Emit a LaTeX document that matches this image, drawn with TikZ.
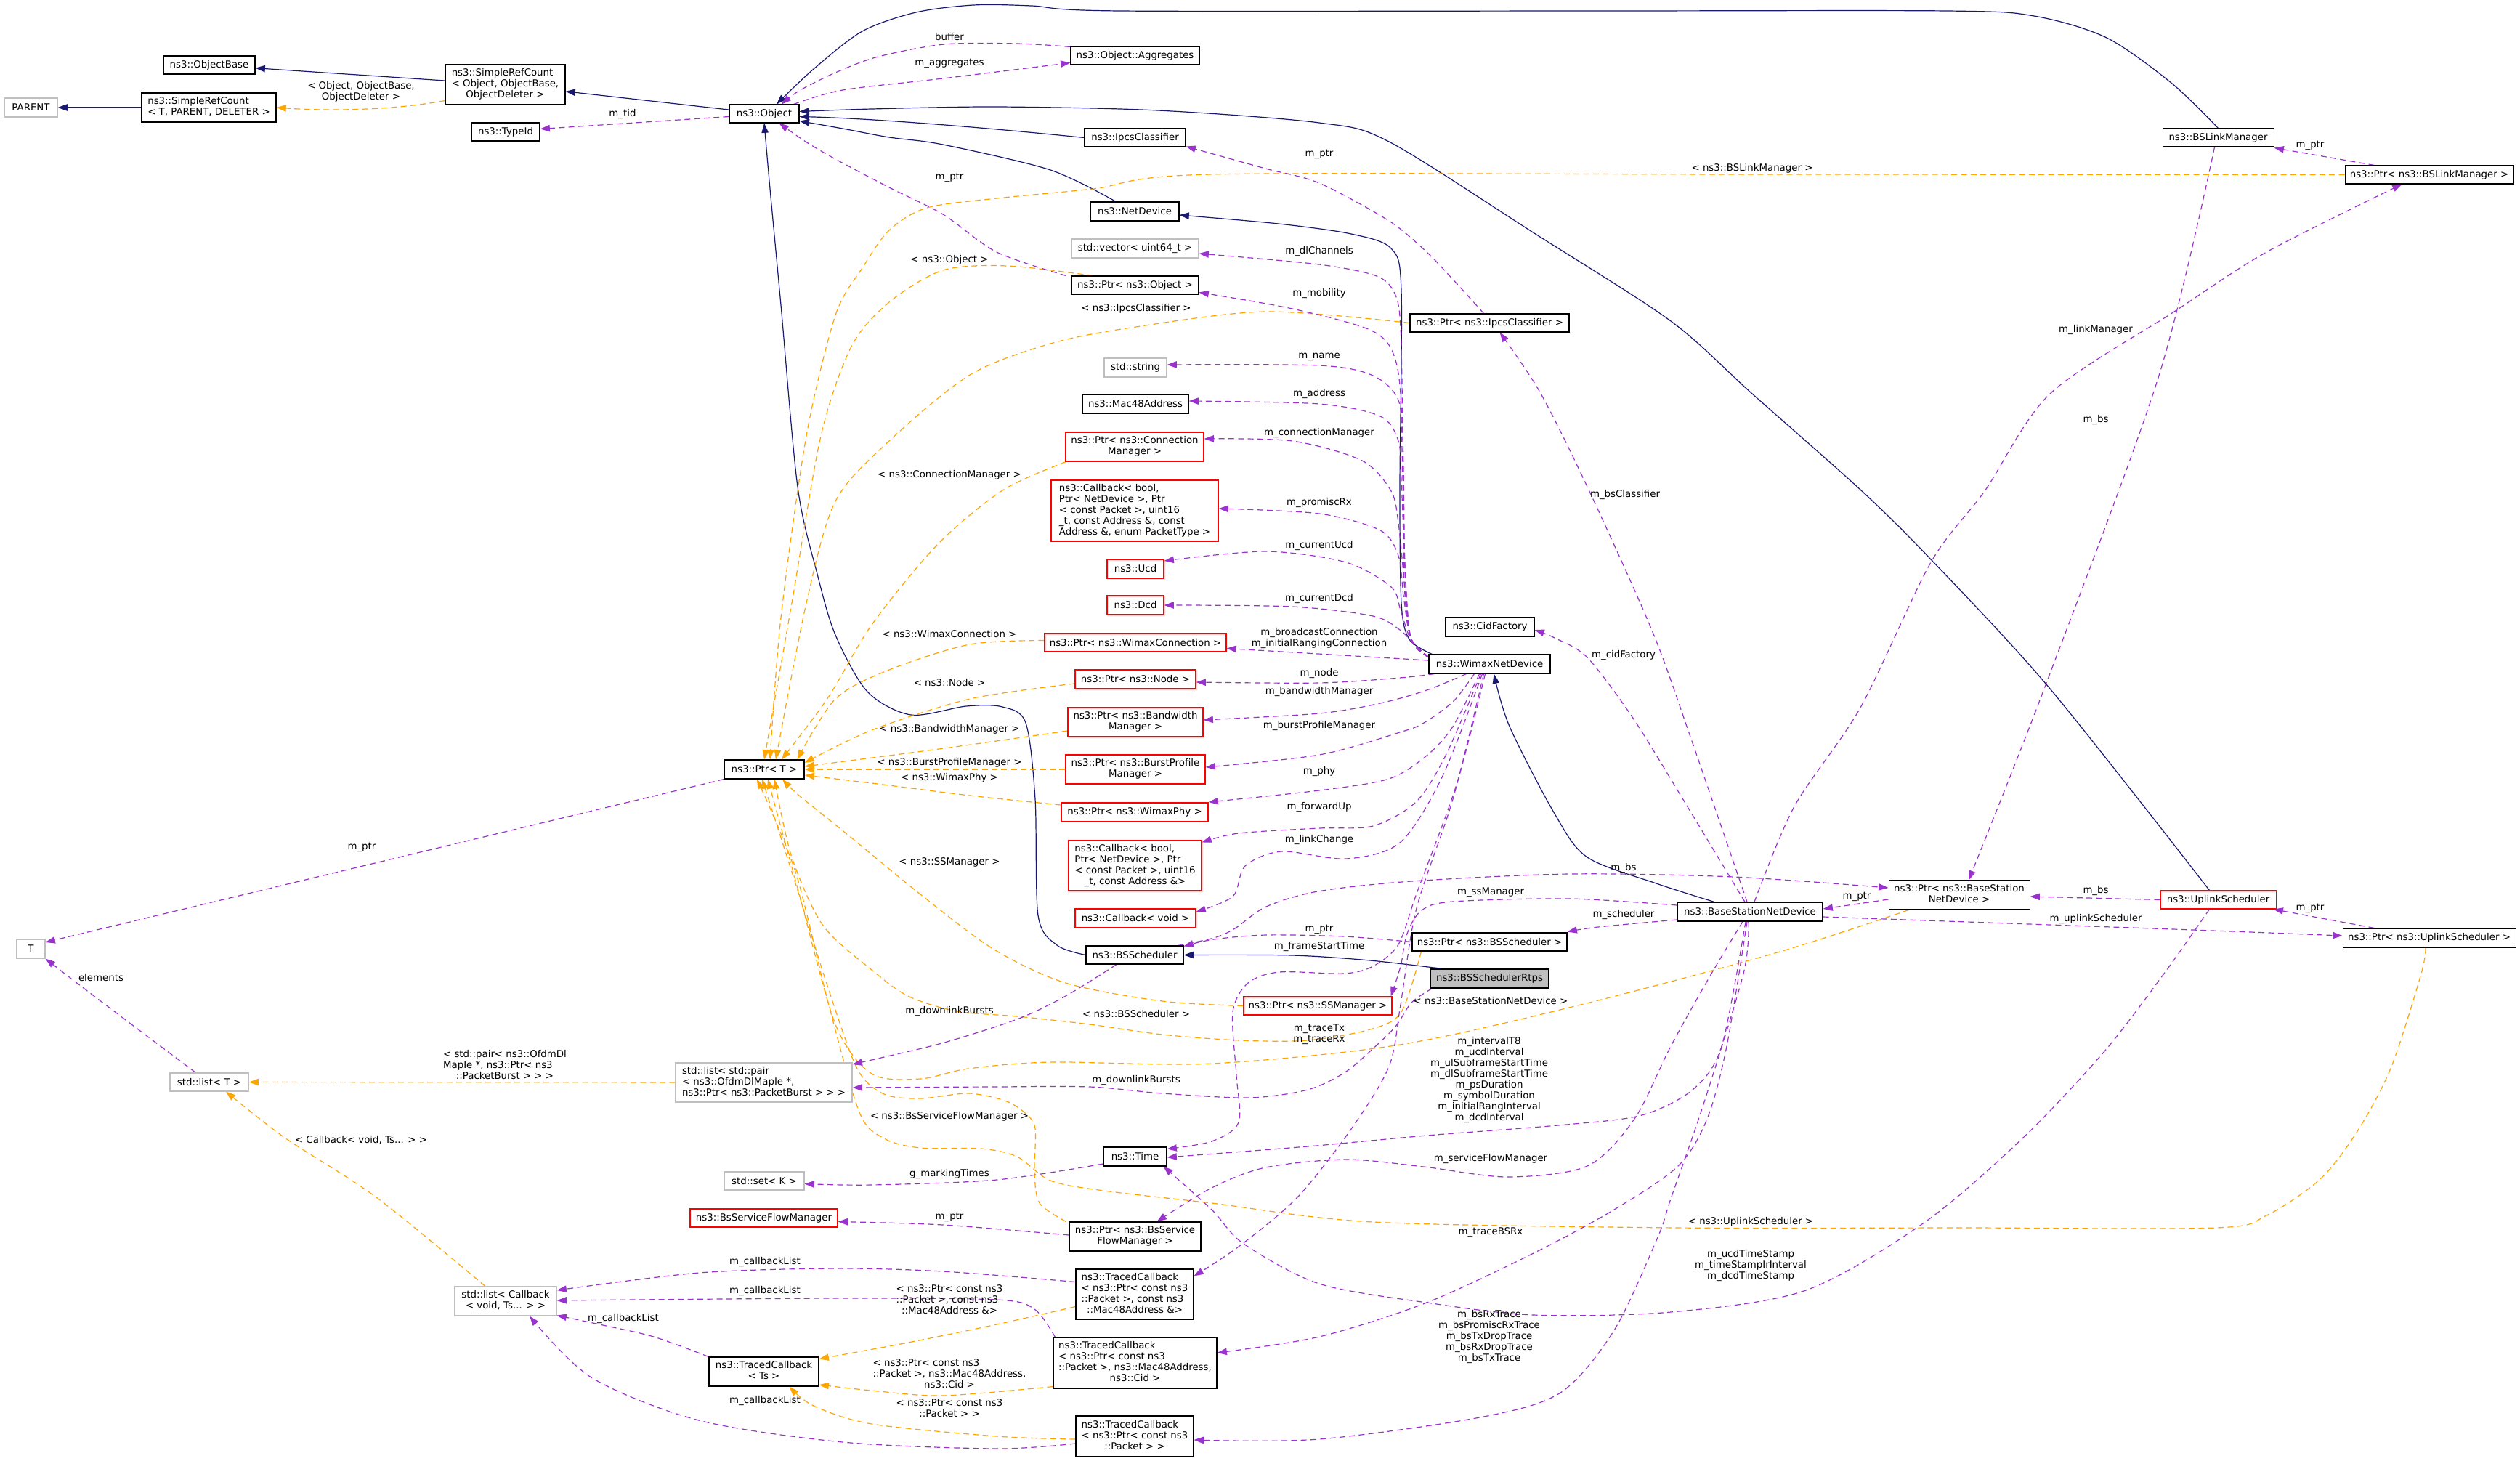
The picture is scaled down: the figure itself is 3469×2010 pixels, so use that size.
\documentclass[tikz,border=0pt]{standalone}
\usepackage{fontspec}
\setmainfont{DejaVu Sans}
\usetikzlibrary{arrows.meta,calc}
\definecolor{inhc}{HTML}{191970}
\definecolor{memc}{HTML}{9A32CD}
\definecolor{tplc}{HTML}{FFA500}
\definecolor{grayb}{HTML}{BFBFBF}
\newcommand{\mlb}[2]{\begin{tabular}{@{}l@{}}#1\\\multicolumn{1}{@{}c@{}}{#2}\end{tabular}}
\pgfdeclarelayer{background}
\pgfsetlayers{background,main}
\begin{document}
\begin{tikzpicture}[x=0.75pt,y=-0.75pt,
  every node/.style={font=\fontsize{10}{11.25}\selectfont},
  wh/.style 2 args={minimum width=#1*0.75pt,minimum height=#2*0.75pt},
  box/.style={draw=black,fill=white,line width=0.8pt,inner sep=0pt,align=center},
  gbox/.style={box,draw=grayb},
  rbox/.style={box,draw=red},
  fbox/.style={box,fill=grayb},
  lbl/.style={inner sep=0pt,align=center},
  tip/.style={-{Triangle[length=10pt,width=7pt]}},
  inh/.style={draw=inhc,line width=0.9pt,tip},
  mem/.style={draw=memc,line width=0.9pt,dash pattern=on 6pt off 4pt,tip},
  tpl/.style={draw=tplc,line width=0.9pt,dash pattern=on 6pt off 4pt,tip}]
\useasboundingbox (0,0) rectangle (3469,2010);

% ---------------- nodes ----------------
\node[gbox,wh={73}{26}] (parent) at (42.5,148) {PARENT};
\node[box,wh={185}{40}] (srcT) at (287.5,148) {\mlb{ns3::SimpleRefCount}{< T, PARENT, DELETER >}};
\node[box,wh={126}{25}] (objbase) at (288,89.5) {ns3::ObjectBase};
\node[box,wh={165}{55}] (srcO) at (695.5,116.5) {\mlb{ns3::SimpleRefCount\\< Object, ObjectBase,}{ObjectDeleter >}};
\node[box,wh={94}{25}] (typeid) at (696,181.5) {ns3::TypeId};
\node[box,wh={96}{25}] (object) at (1052,156.5) {ns3::Object};
\node[box,wh={177}{25}] (aggr) at (1562.5,76.5) {ns3::Object::Aggregates};
\node[box,wh={139}{25}] (ipcs) at (1562.5,189.5) {ns3::IpcsClassifier};
\node[box,wh={122}{26}] (netdev) at (1562,291) {ns3::NetDevice};
\node[gbox,wh={175}{26}] (vec) at (1562.5,342) {std::vector< uint64\_t >};
\node[box,wh={175}{25}] (ptrobj) at (1562.5,392.5) {ns3::Ptr< ns3::Object >};
\node[box,wh={219}{25}] (ptripcs) at (2050.5,444.5) {ns3::Ptr< ns3::IpcsClassifier >};
\node[gbox,wh={86}{26}] (str) at (1563,506) {std::string};
\node[box,wh={146}{26}] (mac) at (1563,556) {ns3::Mac48Address};
\node[rbox,wh={190}{40}] (ptrconn) at (1562,615) {\mlb{ns3::Ptr< ns3::Connection}{Manager >}};
\node[rbox,wh={230}{84}] (cbprom) at (1562,703) {\mlb{ns3::Callback< bool,\\ Ptr< NetDevice >, Ptr\\< const Packet >, uint16\\\_t, const Address \&, const}{Address \&, enum PacketType >}};
\node[rbox,wh={78}{26}] (ucd) at (1563,783) {ns3::Ucd};
\node[rbox,wh={78}{26}] (dcd) at (1563,833) {ns3::Dcd};
\node[box,wh={122}{26}] (cidf) at (2051,863) {ns3::CidFactory};
\node[rbox,wh={250}{25}] (ptrwc) at (1563,884.5) {ns3::Ptr< ns3::WimaxConnection >};
\node[box,wh={167}{26}] (wnd) at (2050.5,914) {ns3::WimaxNetDevice};
\node[rbox,wh={166}{26}] (ptrnode) at (1563,935) {ns3::Ptr< ns3::Node >};
\node[rbox,wh={186}{40}] (ptrbw) at (1563,994) {\mlb{ns3::Ptr< ns3::Bandwidth}{Manager >}};
\node[rbox,wh={192}{40}] (ptrbp) at (1563,1059) {\mlb{ns3::Ptr< ns3::BurstProfile}{Manager >}};
\node[rbox,wh={202}{26}] (ptrphy) at (1562,1118) {ns3::Ptr< ns3::WimaxPhy >};
\node[rbox,wh={183}{69}] (cbfwd) at (1562.5,1191.5) {\mlb{ns3::Callback< bool,\\ Ptr< NetDevice >, Ptr\\< const Packet >, uint16}{\_t, const Address \&>}};
\node[rbox,wh={166}{26}] (cbvoid) at (1563,1264) {ns3::Callback< void >};
\node[box,wh={134}{25}] (bssch) at (1562,1314.5) {ns3::BSScheduler};
\node[box,wh={213}{25}] (ptrbssch) at (2050.5,1296.5) {ns3::Ptr< ns3::BSScheduler >};
\node[fbox,wh={163}{26}] (rtps) at (2050.5,1347) {ns3::BSSchedulerRtps};
\node[rbox,wh={204}{25}] (ptrss) at (1814,1384.5) {ns3::Ptr< ns3::SSManager >};
\node[box,wh={194}{40}] (ptrbsnd) at (2697,1232) {\mlb{ns3::Ptr< ns3::BaseStation}{NetDevice >}};
\node[box,wh={200}{26}] (bsnd) at (2409,1255) {ns3::BaseStationNetDevice};
\node[rbox,wh={159}{25}] (us) at (3053.5,1238.5) {ns3::UplinkScheduler};
\node[box,wh={238}{26}] (ptrus) at (3344,1291) {ns3::Ptr< ns3::UplinkScheduler >};
\node[box,wh={153}{25}] (bslm) at (3053.5,189.5) {ns3::BSLinkManager};
\node[box,wh={232}{25}] (ptrbslm) at (3344,240.5) {ns3::Ptr< ns3::BSLinkManager >};
\node[box,wh={110}{26}] (ptrT) at (1052,1059) {ns3::Ptr< T >};
\node[gbox,wh={39}{26}] (T) at (42.5,1306) {T};
\node[gbox,wh={108}{25}] (listT) at (288,1489.5) {std::list< T >};
\node[gbox,wh={243}{54}] (listpair) at (1051.5,1490) {\mlb{std::list< std::pair\\< ns3::OfdmDlMapIe *,}{ns3::Ptr< ns3::PacketBurst > > >}};
\node[gbox,wh={110}{25}] (setK) at (1052,1625.5) {std::set< K >};
\node[rbox,wh={203}{25}] (bssfm) at (1051.5,1676.5) {ns3::BsServiceFlowManager};
\node[box,wh={87}{26}] (time) at (1562.5,1592) {ns3::Time};
\node[box,wh={181}{40}] (ptrbssfm) at (1562.5,1702) {\mlb{ns3::Ptr< ns3::BsService}{FlowManager >}};
\node[gbox,wh={140}{40}] (listcb) at (696,1791) {\mlb{std::list< Callback}{< void, Ts... > >}};
\node[box,wh={151}{40}] (tcTs) at (1051.5,1888) {\mlb{ns3::TracedCallback}{< Ts >}};
\node[box,wh={162}{69}] (tcMac) at (1562,1781.5) {\mlb{ns3::TracedCallback\\< ns3::Ptr< const ns3\\::Packet >, const ns3}{::Mac48Address \&>}};
\node[box,wh={225}{70}] (tcCid) at (1562.5,1876) {\mlb{ns3::TracedCallback\\< ns3::Ptr< const ns3\\::Packet >, ns3::Mac48Address,}{ns3::Cid >}};
\node[box,wh={162}{56}] (tcPkt) at (1562,1977) {\mlb{ns3::TracedCallback\\< ns3::Ptr< const ns3}{::Packet > >}};

% ---------------- labels ----------------
\node[lbl] (l1) at (497,127) {\mlb{< Object, ObjectBase,}{ObjectDeleter >}};
\node[lbl] (l2) at (857,157) {m\_tid};
\node[lbl] (l3) at (1307,51) {buffer};
\node[lbl] (l4) at (1307,87) {m\_aggregates};
\node[lbl] (l5) at (1816,212) {m\_ptr};
\node[lbl] (l6) at (1307,244) {m\_ptr};
\node[lbl] (l7) at (2412,232) {< ns3::BSLinkManager >};
\node[lbl] (l8) at (3180,200) {m\_ptr};
\node[lbl] (l9) at (1816,346) {m\_dlChannels};
\node[lbl] (l10) at (1307,358) {< ns3::Object >};
\node[lbl] (l11) at (1816,404) {m\_mobility};
\node[lbl] (l12) at (1564,425) {< ns3::IpcsClassifier >};
\node[lbl] (l13) at (2885,454) {m\_linkManager};
\node[lbl] (l14) at (1816,491) {m\_name};
\node[lbl] (l15) at (1816,542) {m\_address};
\node[lbl] (l16) at (2885,578) {m\_bs};
\node[lbl] (l17) at (1816,596) {m\_connectionManager};
\node[lbl] (l18) at (1307,654) {< ns3::ConnectionManager >};
\node[lbl] (l19) at (2237,681) {m\_bsClassifier};
\node[lbl] (l20) at (1816,692) {m\_promiscRx};
\node[lbl] (l21) at (1816,751) {m\_currentUcd};
\node[lbl] (l22) at (1816,824) {m\_currentDcd};
\node[lbl] (l23) at (1307,873) {< ns3::WimaxConnection >};
\node[lbl] (l24) at (1816,878) {m\_broadcastConnection\\m\_initialRangingConnection};
\node[lbl] (l25) at (2235,902) {m\_cidFactory};
\node[lbl] (l26) at (1307,940) {< ns3::Node >};
\node[lbl] (l27) at (1816,927) {m\_node};
\node[lbl] (l28) at (1816,952) {m\_bandwidthManager};
\node[lbl] (l29) at (1307,1004) {< ns3::BandwidthManager >};
\node[lbl] (l30) at (1816,999) {m\_burstProfileManager};
\node[lbl] (l31) at (1307,1050) {< ns3::BurstProfileManager >};
\node[lbl] (l32) at (1816,1062) {m\_phy};
\node[lbl] (l33) at (1307,1071) {< ns3::WimaxPhy >};
\node[lbl] (l34) at (1816,1111) {m\_forwardUp};
\node[lbl] (l35) at (1816,1156) {m\_linkChange};
\node[lbl] (l36) at (498,1166) {m\_ptr};
\node[lbl] (l37) at (1307,1187) {< ns3::SSManager >};
\node[lbl] (l38) at (2235,1195) {m\_bs};
\node[lbl] (l39) at (2885,1226) {m\_bs};
\node[lbl] (l40) at (2052,1228) {m\_ssManager};
\node[lbl] (l41) at (2556,1234) {m\_ptr};
\node[lbl] (l42) at (3180,1250) {m\_ptr};
\node[lbl] (l43) at (2235,1259) {m\_scheduler};
\node[lbl] (l44) at (2885,1265) {m\_uplinkScheduler};
\node[lbl] (l45) at (1816,1279) {m\_ptr};
\node[lbl] (l46) at (1816,1303) {m\_frameStartTime};
\node[lbl] (l47) at (139,1346) {elements};
\node[lbl] (l48) at (2052,1378) {< ns3::BaseStationNetDevice >};
\node[lbl] (l49) at (1307,1392) {m\_downlinkBursts};
\node[lbl] (l50) at (1564,1396) {< ns3::BSScheduler >};
\node[lbl] (l51) at (1816,1424) {m\_traceTx\\m\_traceRx};
\node[lbl] (l52) at (695,1467) {\mlb{< std::pair< ns3::OfdmDl\\MapIe *, ns3::Ptr< ns3}{::PacketBurst > > >}};
\node[lbl] (l53) at (2050,1486) {m\_intervalT8\\m\_ucdInterval\\m\_ulSubframeStartTime\\m\_dlSubframeStartTime\\m\_psDuration\\m\_symbolDuration\\m\_initialRangInterval\\m\_dcdInterval};
\node[lbl] (l54) at (1564,1487) {m\_downlinkBursts};
\node[lbl] (l55) at (1307,1537) {< ns3::BsServiceFlowManager >};
\node[lbl] (l56) at (497,1569) {< Callback< void, Ts... > >};
\node[lbl] (l57) at (2052,1595) {m\_serviceFlowManager};
\node[lbl] (l58) at (1307,1616) {g\_markingTimes};
\node[lbl] (l59) at (1307,1675) {m\_ptr};
\node[lbl] (l60) at (2410,1682) {< ns3::UplinkScheduler >};
\node[lbl] (l61) at (2052,1696) {m\_traceBSRx};
\node[lbl] (l62) at (2410,1742) {m\_ucdTimeStamp\\m\_timeStampIrInterval\\m\_dcdTimeStamp};
\node[lbl] (l63) at (1053,1737) {m\_callbackList};
\node[lbl] (l64) at (1053,1777) {m\_callbackList};
\node[lbl] (l65) at (1307,1790) {\mlb{< ns3::Ptr< const ns3\\::Packet >, const ns3}{::Mac48Address \&>}};
\node[lbl] (l66) at (858,1815) {m\_callbackList};
\node[lbl] (l67) at (2050,1840) {m\_bsRxTrace\\m\_bsPromiscRxTrace\\m\_bsTxDropTrace\\m\_bsRxDropTrace\\m\_bsTxTrace};
\node[lbl] (l68) at (1307,1892) {\mlb{< ns3::Ptr< const ns3\\::Packet >, ns3::Mac48Address,}{ns3::Cid >}};
\node[lbl] (l69) at (1053,1928) {m\_callbackList};
\node[lbl] (l70) at (1307,1940) {\mlb{< ns3::Ptr< const ns3}{::Packet > >}};

\begin{pgfonlayer}{background}
\fill[white] (0,0) rectangle (3469,2010);
% ---------------- inheritance ----------------
\draw[inh] (srcT) -- (parent);
\draw[inh] (srcO) -- (objbase);
\draw[inh] (object) -- (srcO);
\draw[inh] plot[smooth] coordinates {(bslm.north) (2990,115) (2900,52) (2800,22) (2680,15) (2200,15) (1542,15) (1420,8) (1340,7) (1261,17) (1187,43) (1120,95) ($(object.north)+(17,0)$)};
\draw[inh] (ipcs.west) .. controls (1350,175) and (1200,163) .. ($(object.east)+(0,4)$);
\draw[inh] plot[smooth] coordinates {($(netdev.north)+(-26,0)$) (1446,234) (1298,199) (1224,189) (1160,177) ($(object.east)+(0,10)$)};
\draw[inh] plot[smooth] coordinates {($(us.north)+(-12,0)$) (2822,948) (2658,770) (2562,675) (2412,542) (2300,442) (2112,321) (1912,195) (1816,169) (1594,152) (1372,147) (1200,150) ($(object.east)+(0,-3)$)};
\draw[inh] plot[smooth] coordinates {($(wnd.north west)+(5,0)$) (1940,880) (1929,830) (1927,670) (1929,400) (1915,342) (1860,322) (1760,308) ($(netdev.east)+(0,5)$)};
\draw[inh] plot[smooth] coordinates {($(bsnd.north)+(-49,0)$) (2280,1216) (2185,1180) (2140,1120) (2078,1000) ($(wnd.south)+(6,0)$)};
\draw[inh] plot[smooth] coordinates {($(rtps.north)+(-64,0)$) (1886,1322) (1779,1315) (bssch.east)};
\draw[inh] plot[smooth] coordinates {(bssch.west) (1455,1301) (1429,1260) (1425,1100) (1412,995) (1380,973) (1330,972) (1254,984) (1194,952) (1150,874) (1125,790) (1098,670) (1075,420) (1060,260) (object.south)};

% ---------------- template instances ----------------
\draw[tpl] ($(srcO.west)+(0,22)$) .. controls (540,152) and (450,153) .. (srcT.east);
\draw[tpl] plot[smooth] coordinates {($(ptrobj.north west)+(30,0)$) (1387,366) (1298,372) (1224,416) (1172,477) (1130,600) (1090,830) ($(ptrT.north)+(0,0)$)};
\draw[tpl] plot[smooth] coordinates {(ptrbslm.west) (2400,240) (1668,240) (1505,260) (1372,273) (1276,286) (1224,317) (1187,369) (1150,434) (1110,600) (1075,850) ($(ptrT.north)+(8,0)$)};
\draw[tpl] plot[smooth] coordinates {(ptripcs.west) (1742,429) (1557,451) (1446,473) (1335,516) (1224,607) (1150,690) (1110,830) ($(ptrT.north)+(16,0)$)};
\draw[tpl] plot[smooth] coordinates {($(ptrconn.south west)+(1,0)$) (1380,675) (1290,750) (1200,860) (1140,960) ($(ptrT.north)+(24,0)$)};
\draw[tpl] plot[smooth] coordinates {($(ptrwc.west)+(0,-3)$) (1335,887) (1224,922) (1150,962) ($(ptrT.north east)+(-10,0)$)};
\draw[tpl] plot[smooth] coordinates {($(ptrnode.west)+(0,6)$) (1335,962) (1200,1005) ($(ptrT.east)+(0,-9)$)};
\draw[tpl] plot[smooth] coordinates {($(ptrbw.west)+(0,12)$) (1300,1030) ($(ptrT.east)+(0,-4)$)};
\draw[tpl] (ptrbp.west) -- (ptrT.east);
\draw[tpl] plot[smooth] coordinates {($(ptrphy.west)+(0,-10)$) (1335,1095) (1200,1078) ($(ptrT.east)+(0,8)$)};
\draw[tpl] plot[smooth] coordinates {(ptrss.west) (1600,1378) (1467,1353) (1367,1306) (1267,1231) (1167,1149) (1100,1095) ($(ptrT.south)+(25,0)$)};
\draw[tpl] plot[smooth] coordinates {($(ptrbssch.south west)+(13,0)$) (1929,1393) (1886,1417) (1800,1432) (1707,1432) (1600,1424) (1500,1410) (1400,1399) (1317,1392) (1250,1371) (1200,1335) (1133,1274) (1090,1180) ($(ptrT.south)+(14,0)$)};
\draw[tpl] plot[smooth] coordinates {($(ptrbsnd.south west)+(28,0)$) (2450,1310) (2180,1382) (1927,1438) (1668,1464) (1446,1462) (1333,1471) (1267,1485) (1200,1478) (1150,1410) (1100,1230) ($(ptrT.south)+(5,0)$)};
\draw[tpl] plot[smooth] coordinates {($(ptrbssfm.north west)+(-4,0)$) (1431,1656) (1424,1613) (1425,1553) (1410,1531) (1383,1515) (1333,1505) (1267,1512) (1217,1506) (1180,1471) (1140,1360) (1090,1200) ($(ptrT.south)+(-3,0)$)};
\draw[tpl] plot[smooth] coordinates {($(ptrus.south)+(-5,0)$) (3333,1340) (3292,1468) (3247,1554) (3195,1622) (3120,1673) (3050,1690) (2700,1690) (2310,1690) (1890,1682) (1668,1656) (1520,1639) (1446,1625) (1400,1592) (1350,1581) (1267,1580) (1217,1567) (1183,1531) (1140,1380) (1095,1200) ($(ptrT.south)+(-10,0)$)};
\draw[tpl] (listpair) -- (listT);
\draw[tpl] plot[smooth] coordinates {($(listcb.north)+(-28,0)$) (518,1648) (392,1566) ($(listT.south)+(23,0)$)};
\draw[tpl] plot[smooth] coordinates {($(tcMac.west)+(0,17)$) (1372,1823) (1250,1848) ($(tcTs.north east)+(0,3)$)};
\draw[tpl] plot[smooth] coordinates {($(tcCid.south west)+(0,-3)$) (1298,1921) (1200,1914) ($(tcTs.east)+(0,18)$)};
\draw[tpl] plot[smooth] coordinates {($(tcPkt.west)+(0,4)$) (1372,1977) (1200,1960) (1120,1935) ($(tcTs.south)+(35,0)$)};

% ---------------- members ----------------
\draw[mem] ($(object.west)+(0,4)$) -- ($(typeid.east)+(0,-4)$);
\draw[mem] plot[smooth] coordinates {($(aggr.north west)+(0,1)$) (1400,60) (1300,61) (1209,78) (1150,100) (1100,125) ($(object.north)+(24,0)$)};
\draw[mem] plot[smooth] coordinates {($(object.north east)+(-8,0)$) (1160,124) (1298,108) ($(aggr.west)+(0,10)$)};
\draw[mem] plot[smooth] coordinates {($(ptripcs.north)+(-8,0)$) (2005,390) (1964,347) (1912,304) (1816,252) (1742,232) ($(ipcs.south east)+(0,-1)$)};
\draw[mem] plot[smooth] coordinates {($(ptrobj.north west)+(-7,0)$) (1372,347) (1298,295) (1224,258) (1150,219) (1109,195) ($(object.south east)+(-28,0)$)};
% WimaxNetDevice members (upwards)
\draw[mem] plot[smooth] coordinates {($(wnd.north west)+(0,4)$) (1942,878) (1933,800) (1931,600) (1928,450) (1920,404) (1895,380) (1816,364) ($(vec.east)+(0,7)$)};
\draw[mem] plot[smooth] coordinates {($(wnd.north west)+(0,4)$) (1942,878) (1934,780) (1931,600) (1922,499) (1890,456) (1779,425) ($(ptrobj.east)+(0,10)$)};
\draw[mem] plot[smooth] coordinates {($(wnd.north west)+(0,4)$) (1942,878) (1934,780) (1930,620) (1925,551) (1890,517) (1816,503) ($(str.east)+(0,-4)$)};
\draw[mem] plot[smooth] coordinates {($(wnd.north west)+(0,4)$) (1942,878) (1934,780) (1929,660) (1925,607) (1900,573) (1816,556) ($(mac.east)+(0,-4)$)};
\draw[mem] plot[smooth] coordinates {($(wnd.north west)+(0,4)$) (1942,878) (1933,800) (1925,720) (1915,676) (1875,634) (1779,607) ($(ptrconn.east)+(0,-11)$)};
\draw[mem] plot[smooth] coordinates {($(wnd.north west)+(0,4)$) (1942,878) (1932,820) (1925,765) (1900,730) (1816,707) ($(cbprom.east)+(0,-3)$)};
\draw[mem] plot[smooth] coordinates {($(wnd.north west)+(0,4)$) (1942,880) (1928,840) (1915,808) (1853,774) (1742,759) ($(ucd.east)+(0,-11)$)};
\draw[mem] plot[smooth] coordinates {($(wnd.north west)+(0,4)$) (1945,885) (1927,867) (1890,848) (1779,835) (dcd.east)};
\draw[mem] ($(wnd.west)+(0,-5)$) -- ($(ptrwc.east)+(0,8)$);
% WimaxNetDevice members (downwards)
\draw[mem] plot[smooth] coordinates {($(wnd.south west)+(8,0)$) (1927,933) (1816,940) ($(ptrnode.east)+(0,4)$)};
\draw[mem] plot[smooth] coordinates {($(wnd.south west)+(52,0)$) (1964,950) (1900,968) (1816,982) ($(ptrbw.east)+(0,-3)$)};
\draw[mem] plot[smooth] coordinates {($(wnd.south west)+(63,0)$) (2001,965) (1960,995) (1927,1008) (1816,1039) ($(ptrbp.east)+(0,-3)$)};
\draw[mem] plot[smooth] coordinates {($(wnd.south west)+(70,0)$) (2000,1000) (1964,1040) (1912,1072) (1816,1088) ($(ptrphy.east)+(0,-14)$)};
\draw[mem] plot[smooth] coordinates {($(wnd.south west)+(72,0)$) (1990,1040) (1949,1104) (1890,1137) (1816,1140) (1705,1147) ($(cbfwd.north east)+(0,3)$)};
\draw[mem] plot[smooth] coordinates {($(wnd.south west)+(74,0)$) (1985,1070) (1927,1160) (1853,1182) (1764,1172) (1714,1192) (1697,1234) ($(cbvoid.east)+(0,-9)$)};
\draw[mem] plot[smooth] coordinates {($(wnd.south west)+(76,0)$) (2000,1100) (1950,1250) (1928,1383) (1912,1468) (1860,1554) (1786,1648) (1705,1716) ($(tcMac.north east)+(0,10)$)};
\draw[mem] plot[smooth] coordinates {($(wnd.south west)+(78,0)$) (2005,1080) (1950,1230) (1925,1300) (1890,1330) (1850,1340) (1761,1338) (1718,1353) (1697,1393) (1702,1480) (1705,1545) (1668,1571) ($(time.north east)+(0,3)$)};
% BaseStationNetDevice & schedulers
\draw[mem] plot[smooth] coordinates {($(bsnd.west)+(0,-9)$) (2160,1237) (2000,1241) (1957,1253) (1937,1285) (1928,1330) ($(ptrss.north east)+(-2,0)$)};
\draw[mem] plot[smooth] coordinates {($(bsnd.west)+(0,11)$) (2200,1276) ($(ptrbssch.east)+(0,-14)$)};
\draw[mem] plot[smooth] coordinates {($(bssch.north east)+(-8,0)$) (1671,1291) (1700,1278) (1743,1248) (1814,1227) (1943,1213) (2160,1203) (2387,1207) ($(ptrbsnd.west)+(0,-10)$)};
\draw[mem] plot[smooth] coordinates {(ptrbssch.west) (1850,1289) (1743,1287) (1671,1293) ($(bssch.north east)+(0,1)$)};
\draw[mem] ($(ptrbsnd.west)+(0,6)$) -- ($(bsnd.east)+(0,-4)$);
\draw[mem] (us.west) -- ($(ptrbsnd.east)+(0,2)$);
\draw[mem] plot[smooth] coordinates {($(bsnd.east)+(0,7)$) (2822,1273) (3046,1281) ($(ptrus.west)+(0,-3)$)};
\draw[mem] ($(ptrus.north west)+(44,0)$) -- ($(us.south east)+(-4,0)$);
\draw[mem] ($(ptrbslm.north west)+(41,0)$) -- ($(bslm.south east)+(0,1)$);
\draw[mem] plot[smooth] coordinates {($(bsnd.north)+(6,0)$) (2470,1110) (2561,974) (2658,774) (2732,676) (2822,542) (2993,429) (3120,347) ($(ptrbslm.south west)+(79,0)$)};
\draw[mem] plot[smooth] coordinates {($(bslm.south)+(-5,0)$) (2971,520) (2814,948) ($(ptrbsnd.north)+(13,0)$)};
\draw[mem] plot[smooth] coordinates {($(bsnd.north)+(-7,0)$) (2313,1094) (2247,987) (2185,905) (2140,878) ($(cidf.east)+(0,4)$)};
\draw[mem] plot[smooth] coordinates {($(bsnd.north)+(-4,0)$) (2330,1023) (2275,870) (2185,670) (2120,540) ($(ptripcs.south)+(14,0)$)};
\draw[mem] plot[smooth] coordinates {($(bsnd.south)+(-10,0)$) (2356,1340) (2300,1440) (2250,1540) (2185,1605) (2075,1620) (1960,1606) (1853,1596) (1742,1607) (1668,1635) ($(ptrbssfm.north)+(30,0)$)};
\draw[mem] plot[smooth] coordinates {($(bsnd.south)+(-6,0)$) (2370,1440) (2330,1500) (2260,1535) (2156,1548) (1964,1563) (1800,1578) ($(time.east)+(0,1)$)};
\draw[mem] plot[smooth] coordinates {($(bsnd.south)+(-4,0)$) (2377,1440) (2350,1540) (2310,1605) (2222,1665) (2111,1725) (1964,1793) (1816,1840) ($(tcCid.east)+(0,-14)$)};
\draw[mem] plot[smooth] coordinates {($(bsnd.south)+(-2,0)$) (2400,1340) (2345,1520) (2300,1650) (2282,1703) (2222,1831) (2148,1917) (2037,1951) (1816,1981) ($(tcPkt.east)+(0,5)$)};
\draw[mem] plot[smooth] coordinates {($(us.south)+(-12,0)$) (2979,1340) (2897,1447) (2785,1566) (2650,1682) (2486,1776) (2300,1806) (2111,1810) (1964,1793) (1816,1767) (1712,1712) (1668,1665) ($(time.south east)+(-5,0)$)};
% misc members
\draw[mem] plot[smooth] coordinates {($(listT.north west)+(36,0)$) (185,1413) (111,1357) (T.south east)};
\draw[mem] (ptrT.south west) -- ($(T.east)+(0,-9)$);
\draw[mem] plot[smooth] coordinates {($(ptrbssfm.west)+(0,-2)$) (1298,1686) ($(bssfm.east)+(0,5)$)};
\draw[mem] plot[smooth] coordinates {($(time.west)+(0,10)$) (1372,1624) (1200,1631) ($(setK.east)+(0,4)$)};
\draw[mem] plot[smooth] coordinates {($(tcMac.north west)+(0,18)$) (1298,1750) (1150,1746) (962,1752) ($(listcb.east)+(0,-15)$)};
\draw[mem] plot[smooth] coordinates {($(tcCid.north west)+(3,0)$) (1424,1802) (1372,1789) (1150,1787) ($(listcb.east)+(0,-1)$)};
\draw[mem] plot[smooth] coordinates {(tcTs.north west) (900,1840) (830,1824) ($(listcb.south east)+(0,-1)$)};
\draw[mem] plot[smooth] coordinates {($(tcPkt.west)+(0,10)$) (1372,1994) (1160,1985) (962,1955) (814,1896) ($(listcb.south)+(33,0)$)};
\draw[mem] plot[smooth] coordinates {($(bssch.south)+(-25,0)$) (1467,1371) (1400,1403) (1300,1435) (1217,1455) ($(listpair.east)+(0,-25)$)};
\draw[mem] plot[smooth] coordinates {($(rtps.south west)+(3,0)$) (1943,1380) (1921,1413) (1886,1447) (1850,1477) (1800,1500) (1720,1511) (1600,1505) (1500,1496) (1367,1496) ($(listpair.east)+(0,7)$)};
\end{pgfonlayer}
\end{tikzpicture}
\end{document}
